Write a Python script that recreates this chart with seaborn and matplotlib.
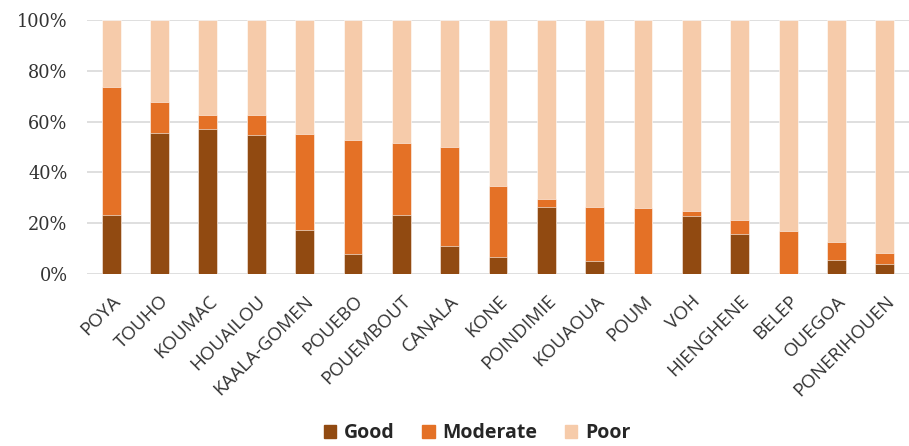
import numpy as np
import pandas as pd
import seaborn as sns
from matplotlib import pyplot as plt
from matplotlib.patches import Patch

regions = ["POYA", "TOUHO", "KOUMAC", "HOUAILOU", "KAALA-GOMEN", "POUEBO", "POUEMBOUT",
           "CANALA", "KONE", "POINDIMIE", "KOUAOUA", "POUM", "VOH", "HIENGHENE",
           "BELEP", "OUEGOA", "PONERIHOUEN"]
good = [23.2, 55.6, 57.1, 54.6, 17.2, 7.9, 23.2, 11.0, 6.6, 26.4, 5.1, 0.0, 22.7, 15.6, 0.0, 5.5, 4.1]
moderate = [50.3, 12.0, 5.6, 8.1, 38.0, 45.0, 28.5, 39.1, 27.9, 3.3, 21.4, 26.1, 2.2, 5.8, 17.1, 7.1, 4.0]
poor = [26.5, 32.4, 37.3, 37.3, 44.8, 47.1, 48.3, 49.9, 65.5, 70.3, 73.5, 73.9, 75.1, 78.6, 82.9, 87.4, 91.9]
yticks = [0, 20, 40, 60, 80, 100]

colors = {"Good": "#914A11", "Moderate": "#E47126", "Poor": "#F6CBAA"}

df = pd.DataFrame({"region": regions, "Good": good, "Moderate": moderate, "Poor": poor})
# cumulative heights for stacking (drawn back to front)
df["top_good"] = df["Good"]
df["top_mod"] = df["Good"] + df["Moderate"]
df["top_poor"] = df["top_mod"] + df["Poor"]

sns.set_style("white")
plt.rcParams["font.family"] = ["Open Sans", "DejaVu Sans"]

fig = plt.figure(figsize=(9.09, 4.46), dpi=100)
ax = fig.add_axes([87 / 909, 1 - 274 / 446, (909 - 87) / 909, 254 / 446])

for col, key in [("top_poor", "Poor"), ("top_mod", "Moderate"), ("top_good", "Good")]:
    sns.barplot(data=df, x="region", y=col, color=colors[key], width=0.39,
                errorbar=None, saturation=1, ax=ax, edgecolor="white", linewidth=0.4)

ax.set_ylim(0, 100)
ax.set_yticks(yticks)
ax.set_yticklabels([f"{v}%" for v in yticks], family="DejaVu Serif", fontsize=12.8, color="#333333")
ax.yaxis.grid(True, color="#D9D9D9", linewidth=1.2)
ax.set_axisbelow(True)
ax.tick_params(axis="y", length=0, pad=14)
ax.tick_params(axis="x", length=0, pad=13)
plt.setp(ax.get_xticklabels(), rotation=45, ha="right", rotation_mode="anchor",
         fontsize=13.5, color="#333333")
ax.set_xlabel("")
ax.set_ylabel("")
sns.despine(ax=ax, left=True, bottom=True)

handles = [Patch(color=colors[k]) for k in ["Good", "Moderate", "Poor"]]
fig.legend(handles, ["Good", "Moderate", "Poor"], loc="lower center",
           bbox_to_anchor=(477 / 909, -0.033), ncol=3, frameon=False,
           prop={"family": "Open Sans", "weight": "bold", "size": 14},
           handlelength=0.65, handleheight=0.65, columnspacing=1.4, handletextpad=0.4,
           labelcolor="#262626")

fig.savefig("out.png", dpi=100)
